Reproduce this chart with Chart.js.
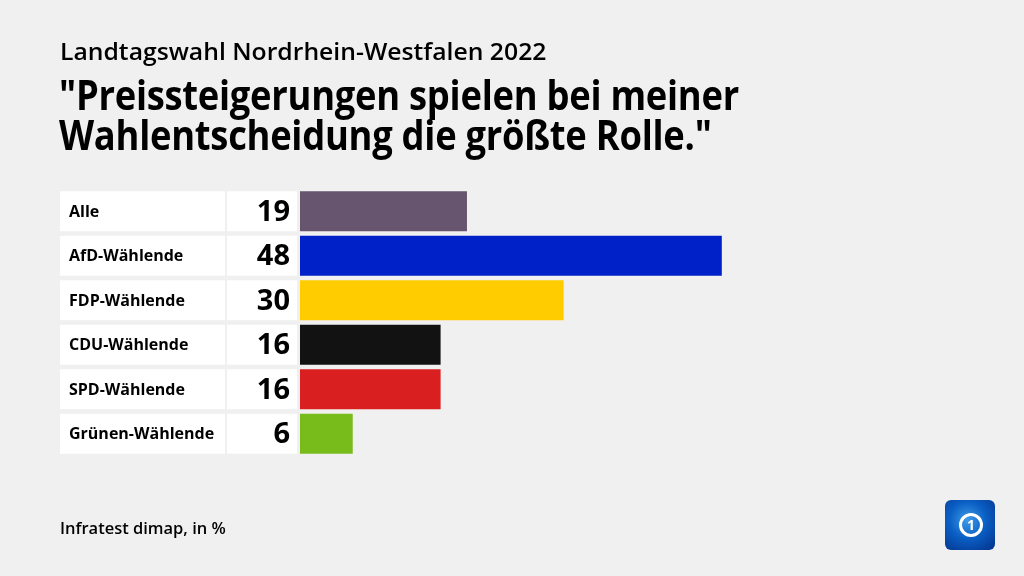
<!DOCTYPE html>
<html>
<head>
<meta charset="utf-8">
<script src="https://cdn.jsdelivr.net/npm/chart.js@4"></script>
<style>
  body { margin: 0; background: #f0f0f0; font-family: "Open Sans", sans-serif; color: #000; }
  #wrap { position: relative; width: 1024px; height: 576px; overflow: hidden; }
  canvas { position: absolute; left: 0; top: 0; }
  .sub { position: absolute; left: 60px; top: 34px; font-size: 24px; font-weight: 600; transform: scaleX(1.03); transform-origin: left top; white-space: nowrap; }
  .title { position: absolute; left: 59px; top: 74px; font-size: 42px; font-weight: 700; line-height: 40px; transform: scaleX(0.865); transform-origin: left top; white-space: nowrap; letter-spacing: -0.3px; }
  .foot { position: absolute; left: 60px; top: 517px; font-size: 16px; font-weight: 600; transform: scaleX(1.03); transform-origin: left top; }
  .logo { position: absolute; left: 945px; top: 500px; width: 50px; height: 50px; border-radius: 6px;
          background: radial-gradient(circle at 45% 40%, #3f9be8 0%, #0a5fc4 45%, #03308a 100%); }
  .logo .ring { position: absolute; left: 14px; top: 13px; width: 18px; height: 18px; border: 3px solid #fff; border-radius: 50%;
          color: #fff; font: 700 14px "Open Sans"; text-align: center; line-height: 18px; }
</style>
</head>
<body>
<div id="wrap">
  <canvas id="myChart" width="1024" height="576"></canvas>
  <div class="sub">Landtagswahl Nordrhein-Westfalen 2022</div>
  <div class="title">"Preissteigerungen spielen bei meiner<br>Wahlentscheidung die größte Rolle."</div>
  <div class="foot">Infratest dimap, in %</div>
  <div class="logo"><div class="ring">1</div></div>
</div>
<script>
// categories and values
var groups = ['Alle', 'AfD-Wählende', 'FDP-Wählende', 'CDU-Wählende', 'SPD-Wählende', 'Grünen-Wählende'];
var shares = [19, 48, 30, 16, 16, 6];
var barColors = ['#67556f', '#0021c7', '#ffcc00', '#121212', '#d91f1f', '#78bc1b'];

// draws the white label box and value box in front of each bar
var rowBoxes = {
  id: 'rowBoxes',
  beforeDatasetsDraw: function(chart) {
    var ctx = chart.ctx;
    var bars = chart.getDatasetMeta(0).data;
    ctx.save();
    bars.forEach(function(bar, i) {
      var top = bar.y - bar.height / 2;
      ctx.fillStyle = '#ffffff';
      ctx.fillRect(60, top, 165, bar.height);
      ctx.fillRect(227, top, 70, bar.height);
      ctx.fillStyle = '#000000';
      ctx.textBaseline = 'middle';
      ctx.textAlign = 'left';
      ctx.font = '700 16px "Open Sans"';
      ctx.fillText(groups[i], 69, bar.y + 1);
      ctx.textAlign = 'right';
      ctx.font = '700 29px "Open Sans"';
      ctx.fillText(String(shares[i]), 290, bar.y + 1);
    });
    ctx.restore();
  }
};

var ctx = document.getElementById('myChart').getContext('2d');
var myChart = new Chart(ctx, {
  type: 'bar',
  data: {
    labels: groups,
    datasets: [{
      data: shares,
      backgroundColor: barColors,
      barPercentage: 0.897,
      categoryPercentage: 1.0
    }]
  },
  options: {
    indexAxis: 'y',
    responsive: false,
    animation: false,
    devicePixelRatio: 1,
    layout: { padding: { left: 300, right: 21, top: 189, bottom: 120 } },
    scales: {
      x: { display: false, min: 0, max: 80 },
      y: { display: false }
    },
    plugins: { legend: { display: false }, tooltip: { enabled: false } }
  },
  plugins: [rowBoxes]
});
</script>
</body>
</html>
